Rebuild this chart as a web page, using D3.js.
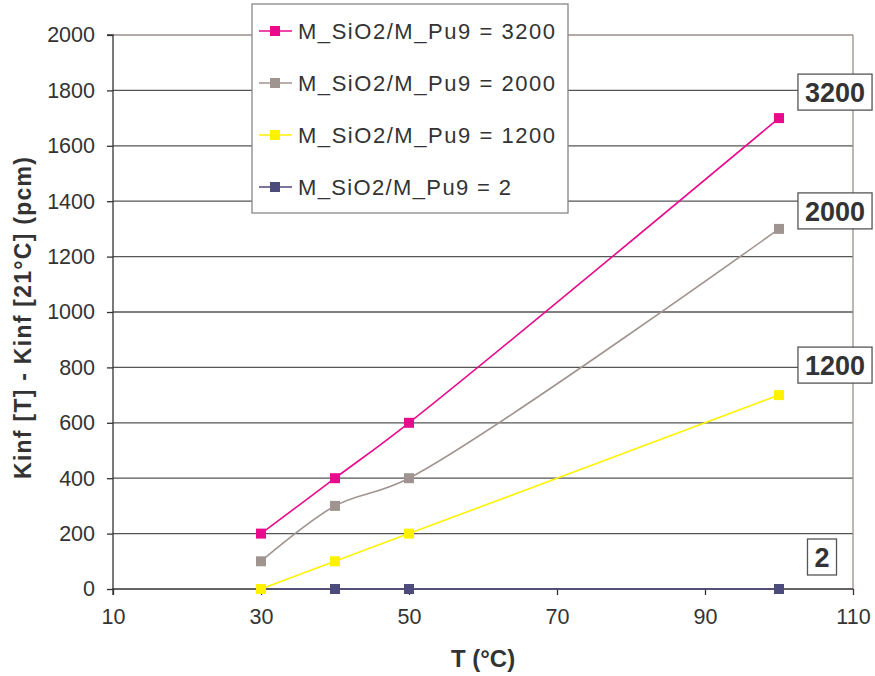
<!DOCTYPE html>
<html>
<head>
<meta charset="utf-8">
<script src="https://cdn.jsdelivr.net/npm/d3@7"></script>
<style>
  body { margin: 0; background: #fff; }
  text { font-family: "Liberation Sans", Arial, sans-serif; fill: #333; }
</style>
</head>
<body>
<svg id="chart" width="875" height="676"></svg>
<script>
// --- data ---
const temperatures = [30, 40, 50, 100];
const seriesNames = ['3200', '2000', '1200', '2'];
const values3200 = [200, 400, 600, 1700];
const values2000 = [100, 300, 400, 1300];
const values1200 = [0, 100, 200, 700];
const values2 = [0, 0, 0, 0];
const xTicks = [10, 30, 50, 70, 90, 110];
const yTicks = [0, 200, 400, 600, 800, 1000, 1200, 1400, 1600, 1800, 2000];

const colors = ['#ea0a8c', '#a09490', '#fff200', '#4d4a7c'];
const seriesValues = [values3200, values2000, values1200, values2];

// label box offsets from the last point (px)
const labelOffsets = [[56, -26], [56, -18], [56, -30], [43, -32]];

const svg = d3.select('#chart');
const margin = { left: 113, right: 22, top: 35, bottom: 87 };
const width = 875, height = 676;

const x = d3.scaleLinear().domain([10, 110]).range([margin.left, width - margin.right]);
const y = d3.scaleLinear().domain([0, 2000]).range([height - margin.bottom, margin.top]);

// gridlines
svg.append('g')
  .selectAll('line')
  .data(yTicks.filter(d => d > 0))
  .join('line')
  .attr('x1', x(10)).attr('x2', x(110))
  .attr('y1', d => y(d)).attr('y2', d => y(d))
  .attr('stroke', d => d === 2000 ? '#9a8f8c' : '#555')
  .attr('stroke-width', 1.3);

// right frame
svg.append('line')
  .attr('x1', x(110)).attr('x2', x(110))
  .attr('y1', y(2000)).attr('y2', y(0))
  .attr('stroke', '#9a8f8c').attr('stroke-width', 1.3);

// axes
const yAxis = svg.append('g')
  .attr('transform', `translate(${x(10)},0)`)
  .call(d3.axisLeft(y).tickValues(yTicks).tickFormat(d3.format('d')).tickSize(6).tickPadding(12));
const xAxis = svg.append('g')
  .attr('transform', `translate(0,${y(0)})`)
  .call(d3.axisBottom(x).tickValues(xTicks).tickFormat(d3.format('d')).tickSize(6).tickPadding(14));

[yAxis, xAxis].forEach(a => {
  a.selectAll('path, line').attr('stroke', '#333').attr('stroke-width', 1.3);
  a.selectAll('text').attr('font-size', 21.5).attr('fill', '#333')
    .style('font-family', '"Liberation Sans", Arial, sans-serif');
});
xAxis.select('.domain').attr('d', `M${x(10)},6V0H${x(110)}`);
yAxis.select('.domain').attr('d', `M-6,${y(2000)}H0V${y(0)}`);

// axis titles
svg.append('text')
  .attr('x', 483).attr('y', 667)
  .attr('text-anchor', 'middle')
  .attr('font-size', 24).attr('font-weight', 'bold')
  .text('T (°C)');

svg.append('text')
  .attr('transform', 'translate(31,318) rotate(-90)')
  .attr('text-anchor', 'middle')
  .attr('font-size', 23).attr('font-weight', 'bold')
  .attr('textLength', 322)
  .text('Kinf [T] - Kinf [21°C] (pcm)');

// series (smoothed like the original spreadsheet lines)
const line = d3.line()
  .x(d => x(d.t))
  .y(d => y(d.v))
  .curve(d3.curveCatmullRom.alpha(0.5));

// draw bottom series first so magenta ends on top
const order = [3, 2, 1, 0];
order.forEach(i => {
  const pts = temperatures.map((t, j) => ({ t, v: seriesValues[i][j] }));
  const g = svg.append('g');
  g.append('path')
    .attr('d', line(pts))
    .attr('fill', 'none')
    .attr('stroke', colors[i])
    .attr('stroke-width', 1.6);
  g.selectAll('rect')
    .data(pts)
    .join('rect')
    .attr('x', d => x(d.t) - 5).attr('y', d => y(d.v) - 5)
    .attr('width', 10).attr('height', 10)
    .attr('fill', colors[i]);
});

// end labels
seriesNames.forEach((name, i) => {
  const last = seriesValues[i].length - 1;
  const cx = x(temperatures[last]) + labelOffsets[i][0];
  const cy = y(seriesValues[i][last]) + labelOffsets[i][1];
  const g = svg.append('g');
  const txt = g.append('text')
    .attr('x', cx).attr('y', cy + 10)
    .attr('text-anchor', 'middle')
    .attr('font-size', 27).attr('font-weight', 'bold')
    .text(name);
  const bb = txt.node().getBBox();
  g.insert('rect', 'text')
    .attr('x', bb.x - 7).attr('y', cy - 18)
    .attr('width', bb.width + 14).attr('height', 36)
    .attr('fill', '#fff')
    .attr('stroke', '#555').attr('stroke-width', 1.3);
});

// legend
const legend = svg.append('g');
legend.append('rect')
  .attr('x', 252).attr('y', 4)
  .attr('width', 316).attr('height', 209)
  .attr('fill', '#fff')
  .attr('stroke', '#888').attr('stroke-width', 1.3);

seriesNames.forEach((name, i) => {
  const ly = 31 + i * 52;
  legend.append('line')
    .attr('x1', 259).attr('x2', 292)
    .attr('y1', ly).attr('y2', ly)
    .attr('stroke', colors[i]).attr('stroke-width', 1.6);
  legend.append('rect')
    .attr('x', 270).attr('y', ly - 5)
    .attr('width', 10).attr('height', 10)
    .attr('fill', colors[i]);
  legend.append('text')
    .attr('x', 298).attr('y', ly + 8)
    .attr('font-size', 22)
    .attr('textLength', name.length === 4 ? 257 : 213)
    .text('M_SiO2/M_Pu9 = ' + name);
});
</script>
</body>
</html>
